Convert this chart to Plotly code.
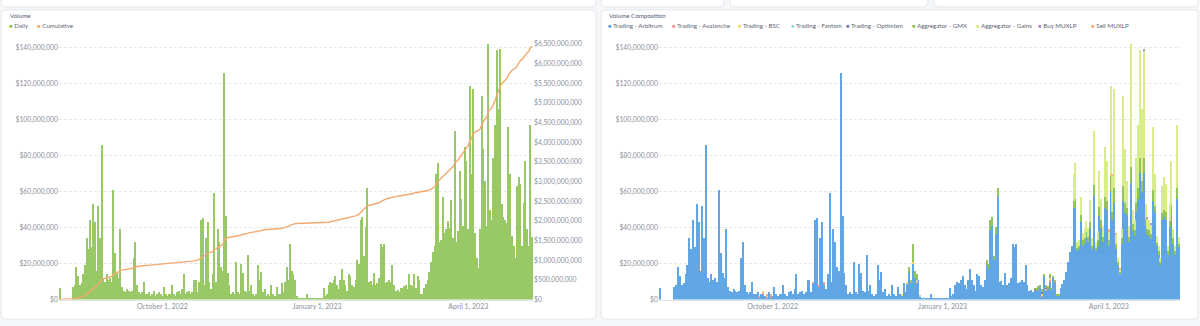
import pandas as pd
import plotly.graph_objects as go

W, H = 1200, 326

# ---------------------------------------------------------------- data
START = "2022-08-01"

# Daily trading volume, millions of USD, one value per day from START
daily_volume_m = [
    6.5, 0, 0, 0, 0, 0, 0, 0,
    7, 8, 18, 13, 8, 9, 14, 19, 34, 28, 44, 29, 53, 43, 16, 52, 34, 86,
    12, 10, 14, 11, 12, 10, 61, 26, 15, 12, 39, 7,
    5, 4, 6, 5, 4, 5, 23, 32, 8, 4, 3, 4, 10, 3,
    3, 4, 2, 3, 5, 2, 3, 4, 3, 2, 7, 3, 2, 3, 3, 8, 3, 2, 4, 5, 3,
    6, 14, 3, 4, 5, 3, 4, 11, 11, 4, 10, 44.5, 45.5, 8, 34, 43, 10, 6,
    14, 59.5, 10, 39, 32, 18, 16, 126, 46.5, 15, 8, 3, 4, 3, 21, 4, 3,
    20, 15, 5, 4, 25, 5, 8, 3, 2, 3, 19.5, 11, 15.5, 4, 6, 2, 3, 2, 8,
    3, 2, 7, 3, 3, 9, 4, 10, 18, 11, 31, 16, 14, 11, 2, 1, 1, 1,
    1, 1, 3, 1, 1, 1, 0.5, 0.5, 1, 1, 0.5,
    1, 6.5, 2, 3, 8, 10, 9, 11, 13, 8, 6, 11, 17, 11, 8, 5, 14, 13, 8, 7, 11,
    22, 20, 44.5, 46, 24, 40.5, 62, 10, 10.5, 8, 15, 8, 9,
    12, 31, 29, 31, 9, 10, 11, 10, 19, 8,
    5, 5.6, 4, 6.5, 6.5, 7.4, 8, 6, 14, 8, 7.4, 14, 6.5, 13, 11, 3, 3,
    6.5, 8.4, 11, 15.6, 21, 26.4, 30,
    69.8, 76, 31.8, 33, 57, 37, 39, 43.5, 40, 55.3, 34, 93.9, 31.8, 38,
    71.5, 56, 41, 85, 77, 39, 118.6, 70, 117, 37, 23, 17.5, 39, 113, 84,
    66, 41, 144, 50, 44.5, 79, 97, 138.6, 106, 139.5, 53, 46, 44.5, 42.7,
    96, 70, 35.6, 30, 23, 63.4, 68, 64.5, 30, 53.5, 77, 39, 30, 97, 35,
]

# Non-Arbitrum components (millions USD): runs of consecutive days
gains_runs = [
    ("2023-03-13", [
        15, 20, 3, 3, 10, 4, 5, 6, 5, 12, 4, 30, 3, 5, 20, 12, 6, 28, 22, 5,
        50, 20, 55, 5, 2, 1, 5, 50, 30, 15, 6, 70, 8, 6, 25, 35, 60, 40, 60,
        8, 6, 6, 5, 35, 18, 4, 3, 2, 15, 18, 16, 3, 10, 25, 5, 3, 35, 4,
    ]),
]
gmx_runs = [
    ("2022-12-14", [3, 2, 10, 4, 3]),
    ("2023-01-25", [3, 3, 6, 5, 2, 4, 5]),
    ("2023-02-20", [1, 1.5, 1, 1, 2, 1, 1.5, 1, 2, 1, 1, 1.5, 1, 1]),
    ("2023-03-13", [
        4, 5, 2, 2, 4, 3, 3, 3, 3, 4, 2, 6, 2, 3, 5, 4, 3, 6, 5, 3,
        8, 5, 8, 3, 2, 1, 3, 8, 6, 4, 3, 9, 4, 3, 5, 6, 8, 6, 8, 4,
        3, 3, 3, 6, 4, 2, 2, 2, 4, 4, 4, 2, 3, 5, 3, 2, 6, 2,
    ]),
]
avalanche_runs = [
    ("2022-09-24", [1, 0, 1.5, 0, 1, 0, 1]),
    ("2022-10-20", [0, 0, 0, 1.5, 0, 0, 1, 0, 0, 2]),
    ("2023-02-22", [0.5, 0, 1, 0, 0.5, 0, 1]),
]
bsc_runs = [
    ("2022-09-26", [1, 0, 1]),
    ("2022-12-10", [1, 0, 0, 1.5, 0, 0, 1, 0, 1]),
    ("2023-02-24", [1, 0, 0.5, 0, 1]),
]
fantom_runs = [("2022-12-18", [0.5, 0, 0.5, 0, 0.5])]
optimism_runs = [("2023-02-20", [0.5, 0, 0.5, 0, 0.5, 0, 0.5])]
buy_runs = [("2023-04-20", [1, 0, 1, 0, 1])]
sell_runs = [("2022-09-28", [0.5, 0, 1]), ("2023-04-01", [1, 0, 1, 0, 1, 0, 1])]

x_tick_dates = ["2022-10-01", "2023-01-01", "2023-04-01"]
x_tick_text = ["October 1, 2022", "January 1, 2023", "April 1, 2023"]
left_ticks_m = [0, 20, 40, 60, 80, 100, 120, 140]
right_ticks_m = [0, 500, 1000, 1500, 2000, 2500, 3000, 3500, 4000, 4500,
                 5000, 5500, 6000, 6500]

# ---------------------------------------------------------------- series
dates = pd.date_range(START, periods=len(daily_volume_m), freq="D")
daily = pd.Series([v * 1e6 for v in daily_volume_m], index=dates)
cumulative = daily.cumsum()


def from_runs(runs):
    s = pd.Series(0.0, index=dates)
    for start, values in runs:
        idx = pd.date_range(start, periods=len(values), freq="D")
        s.loc[idx] = [v * 1e6 for v in values]
    return s


parts = {
    "Trading - Avalanche": from_runs(avalanche_runs),
    "Trading - BSC": from_runs(bsc_runs),
    "Trading - Fantom": from_runs(fantom_runs),
    "Trading - Optimism": from_runs(optimism_runs),
    "Aggregator - GMX": from_runs(gmx_runs),
    "Aggregator - Gains": from_runs(gains_runs),
    "Buy MUXLP": from_runs(buy_runs),
    "Sell MUXLP": from_runs(sell_runs),
}
# Arbitrum trading is whatever the other sources leave of the daily total
arbitrum = (daily - sum(parts.values())).clip(lower=0)
series = {"Trading - Arbitrum": arbitrum, **parts}

colors = {
    "Trading - Arbitrum": "#509EE3",
    "Trading - Avalanche": "#EF8C8C",
    "Trading - BSC": "#F9D45C",
    "Trading - Fantom": "#98D9D9",
    "Trading - Optimism": "#7172AD",
    "Aggregator - GMX": "#88BF4D",
    "Aggregator - Gains": "#D4EC7E",
    "Buy MUXLP": "#A989C5",
    "Sell MUXLP": "#F2A86F",
}
GREEN = "#88BF4D"
ORANGE = "#F2A86F"

# ---------------------------------------------------------------- layout helpers
FONT = "Lato"
TICK_COLOR = "#8A8F9C"
TITLE_COLOR = "#4C5773"
LEGEND_COLOR = "#5D6474"
GRID = "#E6E8EC"


def px_x(v):
    return v / W


def px_y(v):
    return 1 - v / H


def money(v):
    return "${:,.0f}".format(v)


def card(x0, y0, x1, y1, r=5):
    X0, X1 = px_x(x0), px_x(x1)
    Y0, Y1 = px_y(y0), px_y(y1)
    rx, ry = r / W, r / H
    path = (
        f"M{X0 + rx},{Y0} L{X1 - rx},{Y0} Q{X1},{Y0} {X1},{Y0 - ry} "
        f"L{X1},{Y1 + ry} Q{X1},{Y1} {X1 - rx},{Y1} "
        f"L{X0 + rx},{Y1} Q{X0},{Y1} {X0},{Y1 + ry} "
        f"L{X0},{Y0 - ry} Q{X0},{Y0} {X0 + rx},{Y0} Z"
    )
    return dict(type="path", xref="paper", yref="paper", path=path,
                fillcolor="white", line=dict(color="#E3E6EB", width=1),
                layer="below")


L_DOM = [px_x(59), px_x(533)]
R_DOM = [px_x(659), px_x(1180)]
Y_DOM = [px_y(302), px_y(40)]
LEFT_MAX = 140e6 * (262 / 258)
RIGHT_MAX = 6.5e9

fig = go.Figure()

# left panel: daily bars + cumulative line on a secondary axis
fig.add_trace(go.Bar(x=dates, y=daily, marker=dict(color=GREEN, line_width=0),
                     opacity=0.85, xaxis="x", yaxis="y", showlegend=False,
                     name="Daily"))
fig.add_trace(go.Scatter(x=dates, y=cumulative, mode="lines",
                         line=dict(color=ORANGE, width=1.4),
                         xaxis="x", yaxis="y2", showlegend=False,
                         name="Cumulative"))

# right panel: stacked composition
for name, s in series.items():
    fig.add_trace(go.Bar(x=dates, y=s, name=name,
                         marker=dict(color=colors[name], line_width=0),
                         opacity=0.9, xaxis="x2", yaxis="y3",
                         showlegend=False))

ytick_font = dict(family=FONT, size=6.8, color=TICK_COLOR)
xtick_font = dict(family=FONT, size=7, color=TICK_COLOR)
xcommon = dict(type="date", tickvals=x_tick_dates, ticktext=x_tick_text,
               showgrid=False, zeroline=False, ticks="",
               showline=True, linecolor="#E0E3E8", linewidth=1,
               tickfont=xtick_font,
               range=[pd.Timestamp(START) - pd.Timedelta(hours=12),
                      dates[-1] + pd.Timedelta(hours=12)])
left_vals = [v * 1e6 for v in left_ticks_m]
right_vals = [v * 1e6 for v in right_ticks_m]
ycommon = dict(range=[0, LEFT_MAX], tickvals=left_vals,
               ticktext=[money(v) for v in left_vals], tickfont=ytick_font,
               showgrid=True, gridcolor=GRID, griddash="3px,2px",
               gridwidth=1, zeroline=False, ticks="", showline=False)

fig.update_layout(
    width=W, height=H,
    margin=dict(l=0, r=0, t=0, b=0),
    paper_bgcolor="#F5F7F9", plot_bgcolor="rgba(0,0,0,0)",
    barmode="stack", bargap=0.22,
    font=dict(family=FONT),
    xaxis=dict(domain=L_DOM, anchor="y", **xcommon),
    yaxis=dict(domain=Y_DOM, anchor="x", **ycommon),
    yaxis2=dict(domain=Y_DOM, anchor="x", overlaying="y", side="right",
                range=[0, RIGHT_MAX], tickvals=right_vals,
                ticktext=[money(v) for v in right_vals], tickfont=ytick_font,
                showgrid=False, zeroline=False, ticks="", showline=False),
    xaxis2=dict(domain=R_DOM, anchor="y3", **xcommon),
    yaxis3=dict(domain=Y_DOM, anchor="x2", **ycommon),
    shapes=[
        # edges of the cards in the row above
        card(1, -8, 596, 2), card(601, -8, 724, 2),
        card(730, -8, 928, 2), card(934, -8, 1198, 2),
        # the two chart cards
        card(1, 5, 596, 322), card(601, 5, 1198, 322),
    ],
)


# titles and legends
def text(x, y, s, size=6.2, color=TITLE_COLOR):
    fig.add_annotation(x=px_x(x), y=px_y(y), xref="paper", yref="paper",
                       text=s, showarrow=False, xanchor="left",
                       yanchor="middle",
                       font=dict(family=FONT, size=size, color=color))


text(8, 11, "Volume")
text(607, 11, "Volume Composition")


def legend_item(x, y, color, label):
    text(x, y, f"<span style='color:{color}'>●</span> {label}",
         color=LEGEND_COLOR)


legend_item(7, 21, GREEN, "Daily")
legend_item(35, 21, ORANGE, "Cumulative")

legend_x = [606, 670, 736, 789, 844, 910, 974, 1036, 1089]
for lx, name in zip(legend_x, series):
    legend_item(lx, 21, colors[name], name)

fig.write_html("out.html")
